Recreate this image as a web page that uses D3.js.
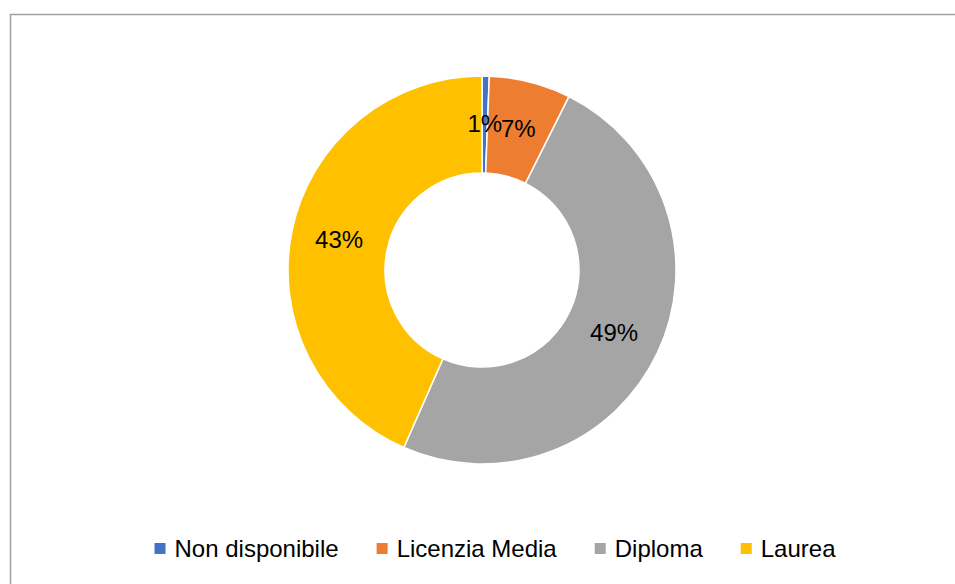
<!DOCTYPE html>
<html>
<head>
<meta charset="utf-8">
<script src="https://cdn.jsdelivr.net/npm/d3@7"></script>
<style>
  body { margin: 0; background: #fff; }
  text { font-family: "Liberation Sans", Arial, sans-serif; fill: #000; }
</style>
</head>
<body>
<svg width="955" height="584"></svg>
<script>
var categories = ["Non disponibile", "Licenzia Media", "Diploma", "Laurea"];
var values = [0.6, 6.8, 49.2, 43.4];
var colors = ["#4472c4", "#ed7d31", "#a5a5a5", "#ffc000"];

var svg = d3.select("svg"),
    cx = 482, cy = 270,
    outerR = 194, innerR = 97;

// chart frame (cut by the window on right and bottom)
svg.append("rect")
    .attr("x", 10.5).attr("y", 14.5)
    .attr("width", 1000).attr("height", 1000)
    .attr("fill", "none")
    .attr("stroke", "#a0a0a0")
    .attr("stroke-width", 1.5);

var data = categories.map(function(c, i) { return {name: c, value: values[i], color: colors[i]}; });
var total = d3.sum(values);

var pie = d3.pie().sort(null).value(function(d) { return d.value; });
var arc = d3.arc().innerRadius(innerR).outerRadius(outerR);
var labelArc = d3.arc().innerRadius(146).outerRadius(146);

var g = svg.append("g").attr("transform", "translate(" + cx + "," + cy + ")");

g.selectAll("path")
    .data(pie(data))
    .enter().append("path")
    .attr("d", arc)
    .attr("fill", function(d) { return d.data.color; })
    .attr("stroke", "#fff")
    .attr("stroke-width", 1.5);

g.selectAll("text.lbl")
    .data(pie(data))
    .enter().append("text")
    .attr("class", "lbl")
    .attr("transform", function(d) { return "translate(" + labelArc.centroid(d) + ")"; })
    .attr("text-anchor", "middle")
    .attr("dy", "0.35em")
    .style("font-size", "24px")
    .text(function(d) { return Math.round(d.data.value / total * 100) + "%"; });

// legend
var legend = svg.append("g");
var items = legend.selectAll("g")
    .data(data)
    .enter().append("g");
items.append("rect")
    .attr("width", 11).attr("height", 11)
    .attr("y", -14)
    .attr("fill", function(d) { return d.color; });
items.append("text")
    .attr("x", 20)
    .style("font-size", "24px")
    .text(function(d) { return d.name; });

var xpos = 0;
items.each(function() {
  var w = 20 + this.querySelector("text").getComputedTextLength();
  d3.select(this).attr("transform", "translate(" + xpos + ",0)");
  xpos += w + 38;
});
var legendW = xpos - 38;
legend.attr("transform", "translate(" + (495 - legendW / 2) + ",557)");
</script>
</body>
</html>
